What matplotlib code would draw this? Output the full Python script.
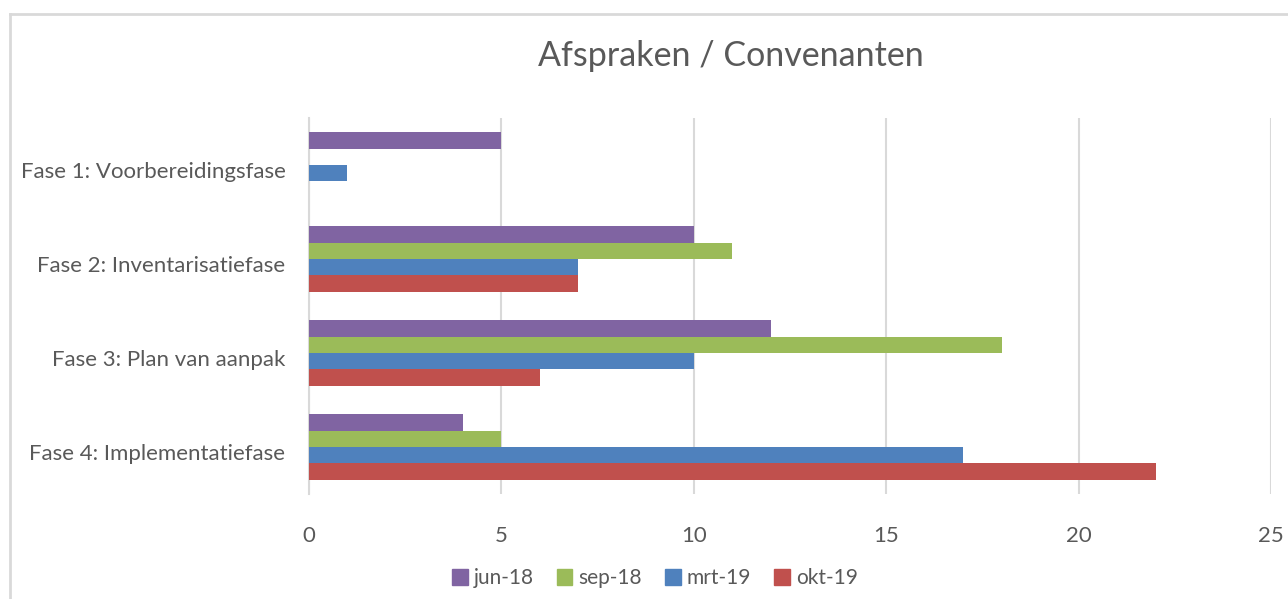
import matplotlib.pyplot as plt
from matplotlib.lines import Line2D
from matplotlib.patches import Patch
from matplotlib.transforms import ScaledTranslation
import numpy as np

# chart data
categories = ['Fase 1: Voorbereidingsfase', 'Fase 2: Inventarisatiefase',
              'Fase 3: Plan van aanpak', 'Fase 4: Implementatiefase']
series_names = ['jun-18', 'sep-18', 'mrt-19', 'okt-19']
jun_18 = [5, 10, 12, 4]
sep_18 = [0, 11, 18, 5]
mrt_19 = [1, 7, 10, 17]
okt_19 = [0, 7, 6, 22]
x_ticks = [0, 5, 10, 15, 20, 25]

COLORS = ['#8064A2', '#9BBB59', '#4F81BD', '#C0504D']
TEXT = '#595959'
GRID = '#D9D9D9'

plt.rcParams['font.family'] = ['Lato', 'DejaVu Sans']

fig = plt.figure(figsize=(12.88, 5.99), dpi=100)
ax = fig.add_axes([309 / 1288, 1 - 494 / 599, (1271 - 309) / 1288, (494 - 118) / 599])

y = np.arange(len(categories))
h = 0.173
all_series = [jun_18, sep_18, mrt_19, okt_19]
for i, (vals, name) in enumerate(zip(all_series, series_names)):
    ax.barh(y + (i - 1.5) * h, vals, height=h, color=COLORS[i], label=name, zorder=3)

ax.set_ylim(3.5, -0.5)
ax.set_xlim(0, 25)
ax.set_xticks(x_ticks)
ax.set_yticks(y)
ax.set_yticklabels(categories)
ax.tick_params(axis='both', length=0, labelsize=16, colors=TEXT)
ax.tick_params(axis='x', pad=23)
ax.tick_params(axis='y', pad=17)
# category labels sit a little below the group centre, like in Excel
shift = ScaledTranslation(0, -0.05, fig.dpi_scale_trans)
for lbl in ax.get_yticklabels():
    lbl.set_transform(lbl.get_transform() + shift)
ax.grid(axis='x', color=GRID, linewidth=1.5, zorder=0)
for side in ['top', 'right', 'bottom']:
    ax.spines[side].set_visible(False)
ax.spines['left'].set_color(GRID)
ax.spines['left'].set_linewidth(1.5)

fig.text(731 / 1288, 1 - 56 / 599, 'Afspraken / Convenanten', ha='center', va='center',
         fontsize=24.5, color=TEXT)

handles = [Patch(color=c) for c in COLORS]
fig.legend(handles, series_names, loc='center', bbox_to_anchor=(655 / 1288, 1 - 578 / 599),
           ncol=4, frameon=False, fontsize=15, labelcolor=TEXT, handlelength=0.75,
           handleheight=0.8, handletextpad=0.3, columnspacing=1.1)

# chart border (cropped on the right and bottom)
fig.add_artist(Line2D([10 / 1288, 10 / 1288], [0, 1 - 14 / 599], color=GRID, linewidth=2))
fig.add_artist(Line2D([10 / 1288, 1], [1 - 14 / 599, 1 - 14 / 599], color=GRID, linewidth=2))

fig.savefig('out.png', dpi=100)
